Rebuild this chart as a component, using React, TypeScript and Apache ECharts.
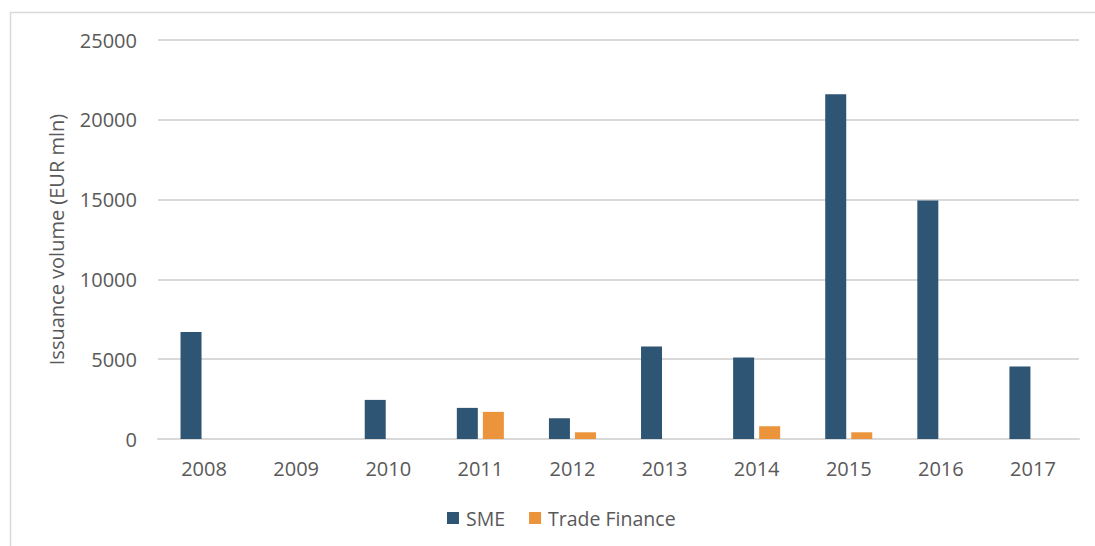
import React, { useEffect, useRef } from "react";
import * as echarts from "echarts";

const years = ["2008", "2009", "2010", "2011", "2012", "2013", "2014", "2015", "2016", "2017"];
const smeValues = [6700, 0, 2450, 1950, 1300, 5800, 5100, 21600, 14950, 4550];
const tradeFinanceValues = [0, 0, 0, 1700, 420, 0, 800, 420, 0, 0];
const yTicks = { min: 0, max: 25000, interval: 5000 };

const textColor = "#595959";
const font = "'Open Sans', sans-serif";
const fs = 20;

export default function App() {
  const ref = useRef<HTMLDivElement>(null);
  useEffect(() => {
    if (!ref.current) return;
    const chart = echarts.init(ref.current, null, { renderer: "svg" });
    chart.setOption({
      animation: false,
      backgroundColor: "#ffffff",
      graphic: [
        {
          type: "rect",
          shape: { x: 10.5, y: 12.5, width: 1200, height: 700 },
          style: { fill: "none", stroke: "#d9d9d9", lineWidth: 1.5 },
          silent: true,
          z: -1,
        },
      ],
      grid: { left: 158, right: 16, top: 40, bottom: 107 },
      legend: {
        left: 447,
        top: 508,
        padding: 0,
        itemWidth: 12,
        itemHeight: 12,
        itemGap: 24,
        icon: "rect",
        textStyle: { color: textColor, fontSize: 19.5, fontFamily: font, padding: [0, 0, 0, 2] },
        data: ["SME", "Trade Finance"],
      },
      xAxis: {
        type: "category",
        data: years,
        axisLine: { lineStyle: { color: "#d9d9d9", width: 2 } },
        axisTick: { show: false },
        axisLabel: { color: textColor, fontSize: fs, fontFamily: font, margin: 19 },
      },
      yAxis: {
        type: "value",
        min: yTicks.min,
        max: yTicks.max,
        interval: yTicks.interval,
        name: "Issuance volume (EUR mln)",
        nameLocation: "middle",
        nameGap: 92,
        nameTextStyle: { color: textColor, fontSize: fs, fontFamily: font },
        axisLine: { show: false },
        axisTick: { show: false },
        axisLabel: {
          color: textColor,
          fontSize: fs,
          fontFamily: font,
          margin: 21,
          formatter: (v: number) => String(v),
        },
        splitLine: { lineStyle: { color: "#d9d9d9", width: 2 } },
      },
      series: [
        {
          name: "SME",
          type: "bar",
          data: smeValues,
          barWidth: 21,
          barGap: "24%",
          itemStyle: { color: "#2f5574" },
        },
        {
          name: "Trade Finance",
          type: "bar",
          data: tradeFinanceValues,
          barWidth: 21,
          itemStyle: { color: "#ec943b" },
        },
      ],
    });
    return () => chart.dispose();
  }, []);
  return (
    <div
      ref={ref}
      style={{ position: "fixed", left: 0, top: 0, width: 1095, height: 546 }}
    />
  );
}
